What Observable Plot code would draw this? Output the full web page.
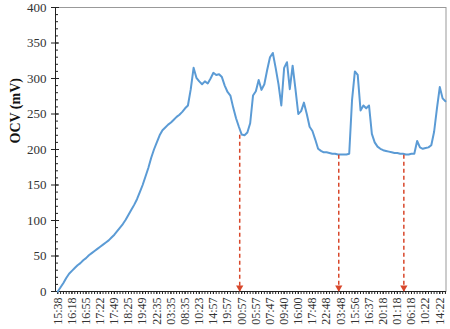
<!DOCTYPE html>
<html>
<head>
<meta charset="utf-8">
<script src="https://cdn.jsdelivr.net/npm/d3@7"></script>
<script src="https://cdn.jsdelivr.net/npm/@observablehq/plot@0.6"></script>
<style>
  html, body { margin: 0; padding: 0; background: #fff; }
  #chart svg { display: block; }
</style>
</head>
<body>
<div id="chart"></div>
<script>
// Time labels on the category axis (one every 5 samples)
const times = ["15:38","16:18","16:55","17:22","17:49","18:25","19:49","22:35","03:35","08:35",
  "10:23","14:57","19:57","00:57","05:57","07:47","09:40","16:00","17:48","22:48",
  "03:48","15:56","16:37","20:18","01:18","06:18","10:22","14:22"];

// OCV readings (mV), one per sample
const ocv = [0,6,12,19,25,29,33,37,40,44,
  47,51,54,57,60,63,66,69,72,76,
  80,85,90,95,101,108,115,122,130,140,
  150,162,174,188,200,210,220,227,231,235,
  238,242,246,249,253,258,262,285,315,301,
  296,292,296,293,300,308,305,306,302,290,
  281,276,259,244,232,221,220,224,237,276,
  282,298,284,292,312,330,336,315,292,262,
  315,323,285,318,285,250,254,266,250,232,
  226,214,201,198,196,196,195,194,194,193,
  193,193,193,194,270,310,305,255,262,258,
  262,222,210,204,201,199,198,197,196,195,
  195,194,194,193,193,194,194,212,203,201,
  202,203,206,225,258,288,272,268];

// Marked minima (sample position, OCV at the start of the arrow)
const arrowAt = [64.3, 99.3, 122.3];
const arrowTop = [220, 192, 192];

const yMajor = [0,50,100,150,200,250,300,350,400];
const yMinor = d3.range(0, 401, 10);
const idx = ocv.map((_, i) => i);
const labelIdx = times.map((_, k) => k * 5);
const arrows = arrowAt.map((x, k) => ({x, top: arrowTop[k]}));

const red = "#d8472b";
const chart = Plot.plot({
  width: 450,
  height: 329,
  marginLeft: 55,
  marginRight: 4.5,
  marginTop: 7,
  marginBottom: 38,
  style: {fontFamily: "'Liberation Serif', 'Times New Roman', serif", background: "#fff", color: "#333"},
  x: {domain: [-0.8, 137.2]},
  y: {domain: [0, 400]},
  marks: [
    Plot.frame({stroke: "#999"}),
    Plot.ruleY([0], {stroke: "#222"}),
    Plot.ruleX([-0.8], {stroke: "#222"}),
    Plot.axisY({ticks: yMinor, tickSize: -3, text: null, label: null, stroke: "#222"}),
    Plot.axisY({ticks: yMajor, tickSize: -4, text: null, label: null, stroke: "#222"}),
    Plot.axisY({ticks: yMajor, tickSize: 4, tickPadding: 5, fontSize: 13, label: null, stroke: "#222"}),
    Plot.axisX({ticks: idx, tickSize: 3, text: null, label: null, stroke: "#222"}),
    Plot.axisX({ticks: labelIdx, tickSize: 3, tickPadding: 3, tickFormat: i => times[i / 5],
      tickRotate: -90, fontSize: 12, label: null, stroke: "#222"}),
    Plot.line(ocv, {x: (d, i) => i, y: d => d, stroke: "#5b9bd5", strokeWidth: 2}),
    Plot.ruleX(arrows, {x: "x", y1: "top", y2: 0, stroke: red, strokeWidth: 1.5, strokeDasharray: "4,3"}),
    Plot.dot(arrows, {x: "x", y: 0, symbol: "triangle", r: 2.7, fill: red, stroke: null, rotate: 180, dy: -4}),
    Plot.text(["OCV (mV)"], {frameAnchor: "left", dx: -40, dy: -6, rotate: -90, fontSize: 14,
      fontWeight: "bold", fill: "#111"})
  ]
});
document.getElementById("chart").appendChild(chart);
</script>
</body>
</html>
